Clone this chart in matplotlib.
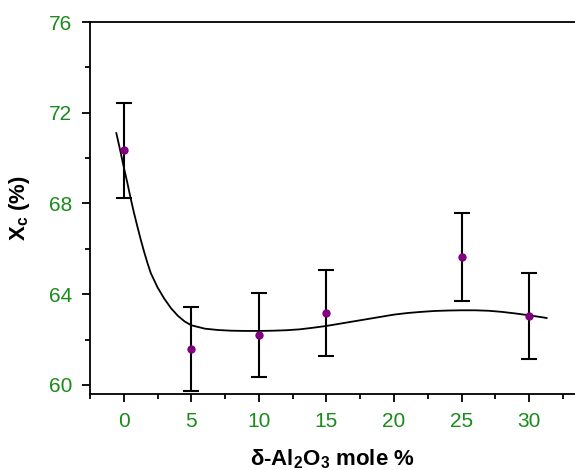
import matplotlib
matplotlib.use("Agg")
import matplotlib.pyplot as plt
from matplotlib.ticker import MultipleLocator

plt.rcParams['font.family'] = ['Liberation Sans', 'DejaVu Sans']
plt.rcParams['mathtext.fontset'] = 'custom'
plt.rcParams['mathtext.rm'] = 'Liberation Sans:bold'
plt.rcParams['mathtext.bf'] = 'Liberation Sans:bold'
plt.rcParams['mathtext.default'] = 'bf'

# data
x_vals = [0, 5, 10, 15, 25, 30]
y_vals = [70.35, 61.6, 62.2, 63.18, 65.65, 63.05]
y_err = [2.1, 1.85, 1.85, 1.9, 1.95, 1.9]

fit_x = [-0.55, -0.25, 0, 0.25, 0.5, 0.75, 1.0, 1.25, 1.5, 1.75, 2.0, 2.5, 3.0, 3.5,
         4.0, 4.5, 5.0, 6.0, 7.0, 8.0, 9.0, 10.0, 11.0, 12.0, 13.0, 14.0, 15.0, 16.0,
         17.0, 18.0, 19.0, 20.0, 21.0, 22.0, 23.0, 24.0, 25.0, 26.0, 27.0, 28.0, 29.0,
         30.0, 31.0, 31.3]
fit_y = [71.1, 70.3, 69.6, 68.95, 68.25, 67.6, 67.0, 66.42, 65.88, 65.38, 64.93, 64.3,
         63.8, 63.38, 63.05, 62.8, 62.63, 62.48, 62.42, 62.39, 62.38, 62.38, 62.39,
         62.41, 62.45, 62.52, 62.6, 62.7, 62.8, 62.9, 63.0, 63.1, 63.17, 63.22, 63.26,
         63.28, 63.29, 63.29, 63.27, 63.22, 63.15, 63.07, 62.98, 62.95]

xticks = [0, 5, 10, 15, 20, 25, 30]
yticks = [60, 64, 68, 72, 76]

fig = plt.figure(figsize=(5.75, 4.7), dpi=100)
ax = fig.add_axes([90/575, 1-394/470, 1-90/575, (394-22)/470])

ax.plot(fit_x, fit_y, color='black', lw=1.3, zorder=2)
ax.errorbar(x_vals, y_vals, yerr=y_err, fmt='o', color='#800080', ms=5,
            ecolor='black', elinewidth=1.5, capsize=6, capthick=1.5, zorder=3)

ax.set_xlim(-2.5, 33.4)
ax.set_ylim(59.6, 76)
ax.set_xticks(xticks)
ax.set_yticks(yticks)
ax.xaxis.set_minor_locator(MultipleLocator(2.5))
ax.yaxis.set_minor_locator(MultipleLocator(2))

for s in ['left', 'bottom', 'top']:
    ax.spines[s].set_linewidth(1.3)
ax.spines['right'].set_visible(False)

ax.tick_params(which='major', direction='out', length=6, width=1.3,
               labelsize=15, labelcolor='#1a8a1a', pad=7)
ax.tick_params(which='minor', direction='out', length=3.5, width=1.3)
ax.tick_params(top=False, which='both')

ax.set_xlabel(r'δ-Al$_2$O$_3$ mole %', fontsize=16, fontweight='bold', labelpad=12)
ax.set_ylabel(r'X$_c$ (%)', fontsize=16, fontweight='bold', labelpad=12)

fig.savefig('out.png', dpi=100)
